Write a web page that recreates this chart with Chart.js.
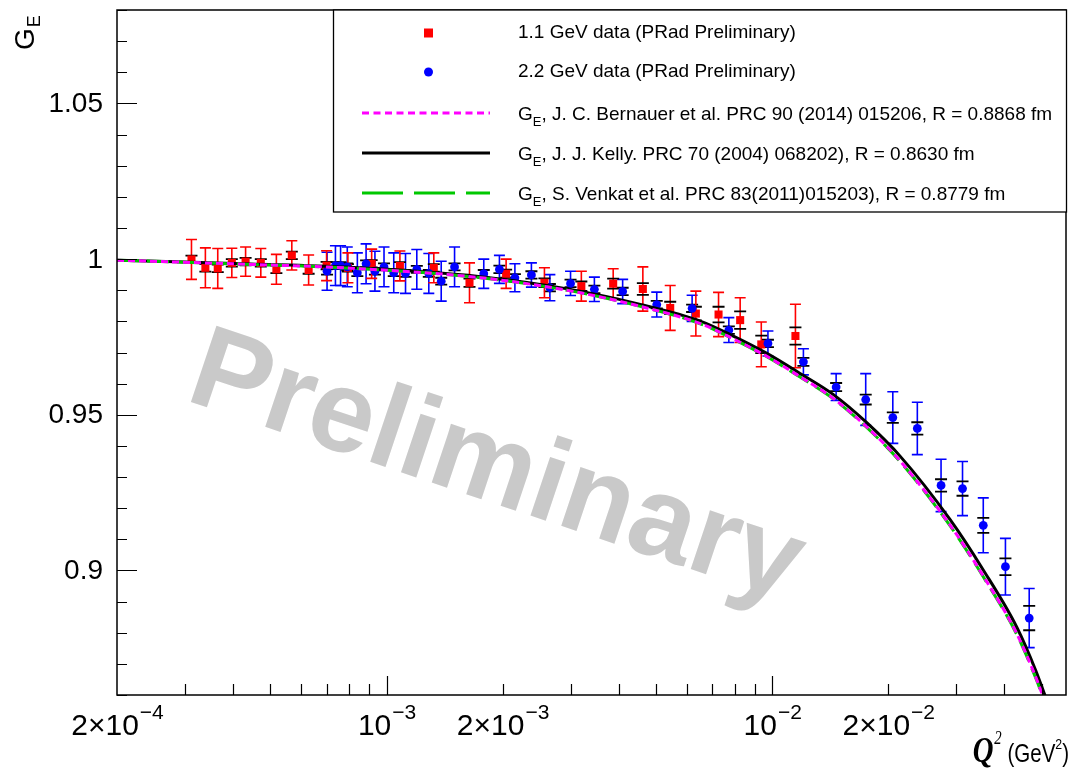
<!DOCTYPE html>
<html>
<head>
<meta charset="utf-8">
<title>PRad G_E preliminary</title>
<script src="https://cdn.jsdelivr.net/npm/chart.js@4.4.1/dist/chart.umd.min.js"></script>
<style>
  html, body { margin: 0; padding: 0; background: #fff; }
  #geChart { display: block; }
</style>
</head>
<body>
<canvas id="geChart" width="1072" height="769"></canvas>
<script>
// ---- values ----
// 1.1 GeV data (red squares)
const q2Beam11 = [3.12e-4, 3.39e-4, 3.65e-4, 3.97e-4, 4.31e-4, 4.72e-4, 5.18e-4, 5.68e-4, 6.28e-4, 6.99e-4,
  7.94e-4, 9.15e-4, 1.083e-3, 1.326e-3, 1.641e-3, 2.042e-3, 2.567e-3, 3.20e-3, 3.87e-3, 4.62e-3,
  5.44e-3, 6.34e-3, 7.26e-3, 8.26e-3, 9.37e-3, 1.149e-2];
const geBeam11 = [0.9999, 0.9972, 0.9970, 0.9988, 0.9992, 0.9988, 0.9967, 1.0012, 0.9965, 0.9979,
  0.9972, 0.9985, 0.9978, 0.9972, 0.9924, 0.9953, 0.9924, 0.9913, 0.9921, 0.9904,
  0.9843, 0.9825, 0.9822, 0.9804, 0.9726, 0.9753];
const statBeam11 = [0.0064, 0.0064, 0.0064, 0.0047, 0.0047, 0.0046, 0.0048, 0.0047, 0.0048, 0.0048,
  0.0048, 0.0047, 0.0048, 0.0048, 0.0064, 0.0047, 0.0048, 0.0048, 0.0048, 0.0071,
  0.0072, 0.0072, 0.0071, 0.0072, 0.0072, 0.0102];
const sysBeam11 = [0.0012, 0.0012, 0.0012, 0.0012, 0.0012, 0.0012, 0.0012, 0.0012, 0.0012, 0.0012,
  0.0012, 0.0012, 0.0012, 0.0012, 0.0013, 0.0013, 0.0014, 0.0015, 0.0016, 0.0019,
  0.0020, 0.0022, 0.0025, 0.0028, 0.0028, 0.0028];

// 2.2 GeV data (blue circles)
const q2Beam22 = [7.01e-4, 7.37e-4, 7.60e-4, 7.91e-4, 8.40e-4, 8.85e-4, 9.33e-4, 9.85e-4, 1.044e-3, 1.12e-3,
  1.198e-3, 1.287e-3, 1.386e-3, 1.501e-3, 1.787e-3, 1.962e-3, 2.152e-3, 2.375e-3, 2.652e-3, 3.0e-3,
  3.459e-3, 4.095e-3, 5.02e-3, 6.2e-3, 7.72e-3, 9.75e-3, 1.205e-2, 1.465e-2, 1.748e-2, 2.055e-2,
  2.379e-2, 2.741e-2, 3.116e-2, 3.527e-2, 4.026e-2, 4.64e-2];
const geBeam22 = [0.9961, 0.9979, 0.9979, 0.9975, 0.9956, 0.9985, 0.9961, 0.9975, 0.9956, 0.9954,
  0.9967, 0.9954, 0.9929, 0.9975, 0.9953, 0.9967, 0.9940, 0.9949, 0.9908, 0.9922,
  0.9903, 0.9896, 0.9854, 0.9842, 0.9772, 0.9729, 0.9670, 0.9589, 0.9549, 0.9491,
  0.9456, 0.9273, 0.9263, 0.9145, 0.9012, 0.8847];
const statBeam22 = [0.0061, 0.0064, 0.0064, 0.0064, 0.0064, 0.0064, 0.0064, 0.0064, 0.0064, 0.0064,
  0.0064, 0.0064, 0.0064, 0.0064, 0.0047, 0.0045, 0.0045, 0.0039, 0.0042, 0.0039,
  0.0039, 0.0039, 0.0040, 0.0042, 0.0040, 0.0040, 0.0042, 0.0043, 0.0083, 0.0083,
  0.0084, 0.0084, 0.0087, 0.0088, 0.0091, 0.0095];
const sysBeam22 = [0.0011, 0.0011, 0.0011, 0.0011, 0.0011, 0.0011, 0.0011, 0.0011, 0.0011, 0.0011,
  0.0011, 0.0011, 0.0011, 0.0011, 0.0012, 0.0012, 0.0012, 0.0012, 0.0012, 0.0012,
  0.0012, 0.0012, 0.0012, 0.0012, 0.0012, 0.0012, 0.0013, 0.0013, 0.0016, 0.0017,
  0.0020, 0.0020, 0.0023, 0.0024, 0.0027, 0.0039];

// form factor parametrisations, sampled off the drawn curves
const curveQ2 = [2.0e-4, 2.84e-4, 4.44e-4, 7.83e-4, 1.752e-3, 2.997e-3, 4.55e-3, 6.51e-3, 7.93e-3, 9.69e-3,
  1.181e-2, 1.439e-2, 1.759e-2, 2.146e-2, 2.891e-2, 3.52e-2, 4.312e-2, 4.83e-2, 5.1e-2];
const geKelly = [0.99965, 0.99916, 0.99846, 0.99743, 0.99435, 0.99027, 0.98545, 0.98008, 0.97527, 0.96971,
  0.96328, 0.95654, 0.94745, 0.93672, 0.91638, 0.90032, 0.88169, 0.8677, 0.8598];
const geBernauer = [0.99965, 0.99906, 0.99830, 0.99717, 0.99403, 0.98979, 0.98481, 0.97928, 0.97437, 0.96875,
  0.96222, 0.95532, 0.94607, 0.93518, 0.91461, 0.89839, 0.87960, 0.8656, 0.8578];
const geVenkat = [0.99965, 0.99906, 0.99830, 0.99717, 0.99403, 0.98979, 0.98481, 0.97924, 0.97431, 0.96865,
  0.96212, 0.95519, 0.94591, 0.93499, 0.91439, 0.89814, 0.87935, 0.8653, 0.8575];

// axis ticks
const yTickValues = [0.9, 0.95, 1, 1.05];
const yTickLabels = ["0.9", "0.95", "1", "1.05"];
const xTickValues = [2e-4, 1e-3, 2e-3, 1e-2, 2e-2];
const xTickBase = ["2\u00d710", "10", "2\u00d710", "10", "2\u00d710"];
const xTickExp = ["\u22124", "\u22123", "\u22123", "\u22122", "\u22122"];

const FONT = "'Liberation Sans', Arial, Helvetica, sans-serif";

function points(xs, ys) {
  return xs.map((x, i) => ({ x: x, y: ys[i] }));
}

// error bars (stat in colour, sys as black caps) + watermark, under the markers
const errorBarPlugin = {
  id: "errorBars",
  beforeDatasetsDraw(chart) {
    const { ctx, chartArea, scales } = chart;
    const xs = scales.x, ys = scales.y;
    ctx.save();
    ctx.beginPath();
    ctx.rect(chartArea.left, chartArea.top, chartArea.width, chartArea.height);
    ctx.clip();

    // "Preliminary" watermark
    ctx.save();
    ctx.translate(496, 470);
    ctx.rotate(18.5 * Math.PI / 180);
    ctx.font = "bold 117px " + FONT;
    ctx.fillStyle = "#c9c9c9";
    ctx.textAlign = "center";
    ctx.textBaseline = "middle";
    ctx.fillText("Preliminary", 0, 0);
    ctx.restore();

    const cap = 5.5;
    chart.data.datasets.forEach((ds) => {
      if (!ds.statErr) return;
      ds.data.forEach((pt, i) => {
        const px = xs.getPixelForValue(pt.x);
        const top = ys.getPixelForValue(pt.y + ds.statErr[i]);
        const bot = ys.getPixelForValue(pt.y - ds.statErr[i]);
        ctx.strokeStyle = ds.backgroundColor;
        ctx.lineWidth = 1.6;
        ctx.beginPath();
        ctx.moveTo(px, top); ctx.lineTo(px, bot);
        ctx.moveTo(px - cap, top); ctx.lineTo(px + cap, top);
        ctx.moveTo(px - cap, bot); ctx.lineTo(px + cap, bot);
        ctx.stroke();

        const sTop = ys.getPixelForValue(pt.y + ds.sysErr[i]);
        const sBot = ys.getPixelForValue(pt.y - ds.sysErr[i]);
        ctx.strokeStyle = "#000";
        ctx.lineWidth = 1.8;
        ctx.beginPath();
        ctx.moveTo(px - cap - 0.5, sTop); ctx.lineTo(px + cap + 0.5, sTop);
        ctx.moveTo(px - cap - 0.5, sBot); ctx.lineTo(px + cap + 0.5, sBot);
        ctx.stroke();
      });
    });
    ctx.restore();
  },
};

// ROOT-like frame, inward ticks, tick labels with exponents, axis titles
const frameAxesPlugin = {
  id: "frameAxes",
  afterDraw(chart) {
    const { ctx, chartArea: a, scales } = chart;
    const xs = scales.x, ys = scales.y;
    ctx.save();
    ctx.strokeStyle = "#000";
    ctx.lineWidth = 1.5;
    ctx.strokeRect(a.left, a.top, a.right - a.left, a.bottom - a.top);

    // y ticks every 0.01, long ones at 0.05
    ctx.lineWidth = 1.2;
    ctx.beginPath();
    for (let k = 86; k <= 108; k++) {
      const py = Math.round(ys.getPixelForValue(k / 100)) + 0.5;
      const len = k % 5 === 0 ? 20 : 10;
      ctx.moveTo(a.left, py); ctx.lineTo(a.left + len, py);
    }
    // x ticks on the log axis
    [1e-4, 1e-3, 1e-2].forEach((d) => {
      for (let m = 1; m <= 9; m++) {
        const v = m * d;
        if (v <= xs.min * 1.0001 || v > xs.max) continue;
        const px = Math.round(xs.getPixelForValue(v)) + 0.5;
        const len = m === 1 ? 19 : 11;
        ctx.moveTo(px, a.bottom); ctx.lineTo(px, a.bottom - len);
      }
    });
    ctx.stroke();

    // y tick labels
    ctx.fillStyle = "#000";
    ctx.font = "28px " + FONT;
    ctx.textAlign = "right";
    ctx.textBaseline = "middle";
    yTickValues.forEach((v, i) => {
      ctx.fillText(yTickLabels[i], 103, ys.getPixelForValue(v) + 1);
    });

    // x tick labels
    ctx.textBaseline = "alphabetic";
    ctx.textAlign = "left";
    xTickValues.forEach((v, i) => {
      const px = xs.getPixelForValue(v);
      ctx.font = "30px " + FONT;
      const wb = ctx.measureText(xTickBase[i]).width;
      ctx.font = "21px " + FONT;
      const we = ctx.measureText(xTickExp[i]).width;
      const x0 = px - (wb + we) / 2;
      ctx.font = "30px " + FONT;
      ctx.fillText(xTickBase[i], x0, a.bottom + 40);
      ctx.font = "21px " + FONT;
      ctx.fillText(xTickExp[i], x0 + wb + 1, a.bottom + 24);
    });

    // x title: Q^2 (GeV^2), right aligned, slightly condensed like the original
    const ty = 762;
    const parts = [
      { t: "Q", f: "italic bold 35px 'Liberation Serif', 'DejaVu Serif', serif", dy: 0, gap: 0 },
      { t: "2", f: "italic 18px 'Liberation Serif', serif", dy: -18, gap: 1 },
      { t: "(GeV", f: "25px " + FONT, dy: 0, gap: 7 },
      { t: "2", f: "15px " + FONT, dy: -13, gap: 0 },
      { t: ")", f: "25px " + FONT, dy: 0, gap: 0 },
    ];
    const squeeze = 0.82;
    let total = 0;
    parts.forEach((p) => { ctx.font = p.f; p.w = ctx.measureText(p.t).width; total += p.w + p.gap; });
    ctx.save();
    ctx.translate(1069 - total * squeeze, ty);
    ctx.scale(squeeze, 1);
    let tx = 0;
    parts.forEach((p) => {
      tx += p.gap;
      ctx.font = p.f;
      ctx.fillText(p.t, tx, p.dy);
      tx += p.w;
    });
    ctx.restore();

    // y title: G_E, rotated, at top of axis
    ctx.save();
    ctx.translate(34, 50);
    ctx.rotate(-Math.PI / 2);
    ctx.font = "28px " + FONT;
    ctx.fillText("G", 0, 0);
    const gw = ctx.measureText("G").width;
    ctx.font = "18px " + FONT;
    ctx.fillText("E", gw + 1, 6);
    ctx.restore();
    ctx.restore();
  },
};

// legend box in the upper right, labels support a one-letter subscript "_X"
const legendPlugin = {
  id: "rootLegend",
  afterDraw(chart) {
    const ctx = chart.ctx;
    const box = { left: 333, top: 10, right: 1066, bottom: 212 };
    const rows = [33, 72, 113, 153, 193];
    ctx.save();
    ctx.fillStyle = "#fff";
    ctx.fillRect(box.left, box.top, box.right - box.left, box.bottom - box.top);
    ctx.strokeStyle = "#000";
    ctx.lineWidth = 1.3;
    ctx.strokeRect(box.left + 0.5, box.top, box.right - box.left, box.bottom - box.top);

    chart.data.datasets
      .slice()
      .sort((p, q) => p.legendRank - q.legendRank)
      .forEach((ds, row) => {
        const yc = rows[row];
        if (ds.showLine) {
          ctx.strokeStyle = ds.borderColor;
          ctx.lineWidth = ds.borderWidth;
          ctx.setLineDash(ds.legendDash || []);
          ctx.beginPath();
          ctx.moveTo(362, yc); ctx.lineTo(490, yc);
          ctx.stroke();
          ctx.setLineDash([]);
        } else {
          ctx.fillStyle = ds.backgroundColor;
          ctx.beginPath();
          if (ds.pointStyle === "rect") ctx.rect(424, yc - 4.5, 9, 9);
          else ctx.arc(428.5, yc, 4.5, 0, Math.PI * 2);
          ctx.fill();
        }
        ctx.fillStyle = "#000";
        ctx.textBaseline = "middle";
        let tx = 518;
        const ty = ds.showLine ? yc + 2 : yc;
        ds.label.split(/(_\w)/).forEach((part) => {
          if (!part) return;
          if (part[0] === "_") {
            ctx.font = "13px " + FONT;
            ctx.fillText(part.slice(1), tx, ty + 7);
            tx += ctx.measureText(part.slice(1)).width;
          } else {
            ctx.font = "19px " + FONT;
            ctx.fillText(part, tx, ty);
            tx += ctx.measureText(part).width;
          }
        });
      });
    ctx.restore();
  },
};

const datasets = [
  {
    label: "G_E, J. C. Bernauer et al. PRC 90 (2014) 015206, R = 0.8868 fm",
    data: points(curveQ2, geBernauer),
    showLine: true, pointRadius: 0, borderColor: "#ff00ff", borderWidth: 3,
    borderDash: [7, 4], legendDash: [7, 4.5], cubicInterpolationMode: "monotone",
    clip: 0, order: 1, legendRank: 2,
  },
  {
    label: "G_E, S. Venkat et al. PRC 83(2011)015203), R = 0.8779 fm",
    data: points(curveQ2, geVenkat),
    showLine: true, pointRadius: 0, borderColor: "#00c800", borderWidth: 3,
    borderDash: [22, 8], legendDash: [41, 11], cubicInterpolationMode: "monotone",
    clip: 0, order: 2, legendRank: 4,
  },
  {
    label: "G_E, J. J. Kelly. PRC 70 (2004) 068202), R = 0.8630 fm",
    data: points(curveQ2, geKelly),
    showLine: true, pointRadius: 0, borderColor: "#000000", borderWidth: 3,
    cubicInterpolationMode: "monotone", clip: 0, order: 3, legendRank: 3,
  },
  {
    label: "2.2 GeV data (PRad Preliminary)",
    data: points(q2Beam22, geBeam22),
    statErr: statBeam22, sysErr: sysBeam22,
    pointStyle: "circle", pointRadius: 4.4, borderWidth: 0,
    backgroundColor: "#0000ff", borderColor: "#0000ff", order: 4, legendRank: 1,
  },
  {
    label: "1.1 GeV data (PRad Preliminary)",
    data: points(q2Beam11, geBeam11),
    statErr: statBeam11, sysErr: sysBeam11,
    pointStyle: "rect", pointRadius: 5.7, borderWidth: 0,
    backgroundColor: "#ff0000", borderColor: "#ff0000", order: 5, legendRank: 0,
  },
];

const geChart = new Chart(document.getElementById("geChart").getContext("2d"), {
  type: "scatter",
  data: { datasets: datasets },
  plugins: [errorBarPlugin, frameAxesPlugin, legendPlugin],
  options: {
    responsive: false,
    animation: false,
    devicePixelRatio: 1,
    events: [],
    layout: { padding: { left: 0, right: 6, top: 10, bottom: 0 } },
    plugins: { legend: { display: false }, tooltip: { enabled: false } },
    scales: {
      x: {
        type: "logarithmic",
        min: 2e-4,
        max: 0.0578,
        grid: { display: false, drawTicks: false },
        border: { display: false },
        ticks: { display: false },
        afterFit: (scale) => { scale.height = 74; },
      },
      y: {
        type: "linear",
        min: 0.86,
        max: 1.08,
        grid: { display: false, drawTicks: false },
        border: { display: false },
        ticks: { display: false },
        afterFit: (scale) => { scale.width = 117; },
      },
    },
  },
});
</script>
</body>
</html>
